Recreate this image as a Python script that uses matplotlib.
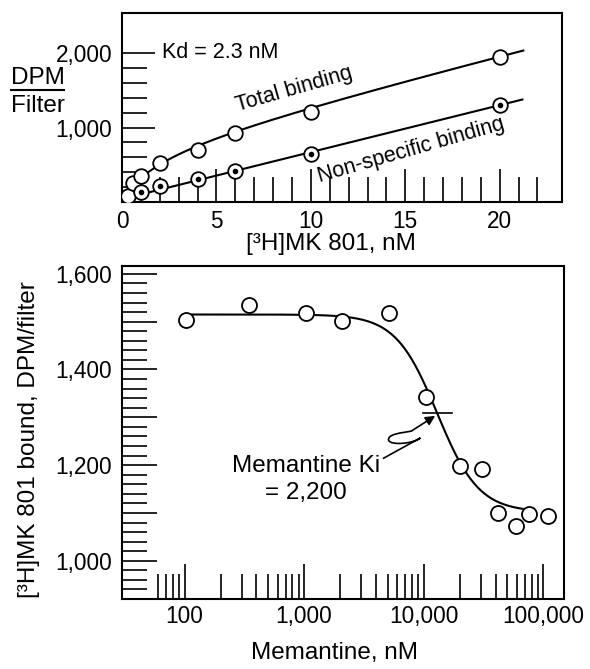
import numpy as np
import matplotlib
matplotlib.use("Agg")
import matplotlib.pyplot as plt
import matplotlib.ticker as mticker
import matplotlib.transforms as mtransforms
from matplotlib.path import Path
from matplotlib.patches import PathPatch

plt.rcParams["font.family"] = ["Liberation Sans", "DejaVu Sans"]

# ── Top panel: saturation binding of [3H]MK 801 ──────────────────────────────
total_conc = [0.3, 0.6, 1, 2, 4, 6, 10, 20]
total_dpm = [75, 250, 345, 530, 700, 920, 1210, 1950]
ns_conc = [1, 2, 4, 6, 10, 20]
ns_dpm = [140, 220, 305, 420, 645, 1300]

# fitted curve parameters (Kd from the figure)
kd = 2.3
bmax = 725
ns_intercept = 40
ns_slope = 63

# ── Bottom panel: memantine displacement ─────────────────────────────────────
mem_conc = [103, 348, 1047, 2094, 5180, 10470, 20050, 31100, 42200, 59800, 76900, 110000]
mem_dpm = [1504, 1535, 1519, 1502, 1519, 1343, 1198, 1192, 1099, 1073, 1097, 1094]

fit_top = 1515
fit_bottom = 1102
fit_ic50 = 13000
fit_hill = 2.5

FS_TICK = 16.3
FS_LABEL = 17.5
FS_NOTE = 15.5


def comma_fmt(v, pos):
    return f"{v:,.0f}"


fig = plt.figure(figsize=(5.9, 6.69), dpi=100)

# ── Top axes ──────────────────────────────────────────────────────────────────
ax1 = fig.add_axes([0.2068, 0.698, 0.7458, 0.2826])

xs = np.linspace(0.5, 21.2, 200)
ns_line = ns_intercept + ns_slope * xs
ax1.plot(xs, ns_line, color="black", lw=1.5, zorder=2)
xt = np.linspace(1.0, 21.25, 200)
tot_line = bmax * xt / (kd + xt) + ns_intercept + ns_slope * xt
ax1.plot(xt, tot_line, color="black", lw=1.5, zorder=2)

ax1.plot(total_conc, total_dpm, "o", ms=10.5, mfc="white", mec="black", mew=1.3, zorder=3)
ax1.plot(ns_conc, ns_dpm, "o", ms=10.5, mfc="white", mec="black", mew=1.3, zorder=3)
ax1.plot(ns_conc, ns_dpm, "o", ms=3, mfc="black", mec="black", zorder=4)

ax1.set_xlim(0, 23.3)
ax1.set_ylim(0, 2537)
ax1.xaxis.set_major_locator(mticker.FixedLocator([0, 5, 10, 15, 20]))
ax1.xaxis.set_minor_locator(mticker.FixedLocator(list(range(1, 23))))
ax1.yaxis.set_major_locator(mticker.FixedLocator([1000, 2000]))
ax1.yaxis.set_minor_locator(mticker.FixedLocator([200, 400, 600, 800, 1200, 1400, 1600, 1800]))
ax1.yaxis.set_major_formatter(mticker.FuncFormatter(comma_fmt))
ax1.tick_params(which="both", direction="in", width=1.2, labelsize=FS_TICK)
ax1.tick_params(which="major", length=24)
ax1.tick_params(which="minor", length=18)
ax1.tick_params(axis="x", pad=6)
ax1.tick_params(axis="y", pad=7)
for sp in ax1.spines.values():
    sp.set_linewidth(1.5)

ax1.set_xlabel("[³H]MK 801, nM", fontsize=FS_LABEL)
ax1.xaxis.set_label_coords(0.475, -0.165)

# DPM / Filter fraction label
ax1.text(-0.192, 0.656, "DPM", transform=ax1.transAxes, fontsize=FS_LABEL,
         ha="center", va="center")
ax1.plot([-0.252, -0.132], [0.593, 0.593], color="black", lw=1.5,
         transform=ax1.transAxes, clip_on=False)
ax1.text(-0.192, 0.508, "Filter", transform=ax1.transAxes, fontsize=FS_LABEL,
         ha="center", va="center")

ax1.text(2.1, 2013, "Kd = 2.3 nM", fontsize=FS_NOTE, ha="left", va="center")
ax1.text(9.1, 1510, "Total binding", fontsize=FS_NOTE, rotation=16,
         rotation_mode="anchor", ha="center", va="center")
ax1.text(15.3, 700, "Non-specific binding", fontsize=FS_NOTE, rotation=16,
         rotation_mode="anchor", ha="center", va="center")

# ── Bottom axes ───────────────────────────────────────────────────────────────
ax2 = fig.add_axes([0.2068, 0.1046, 0.7492, 0.4982])
ax2.set_xscale("log")

xc = np.logspace(2, np.log10(67600), 300)
yc = fit_bottom + (fit_top - fit_bottom) / (1 + (xc / fit_ic50) ** fit_hill)
ax2.plot(xc, yc, color="black", lw=1.5, zorder=2)
ax2.plot(mem_conc, mem_dpm, "o", ms=10.8, mfc="white", mec="black", mew=1.3, zorder=3)

# Ki marker
ki_y = (fit_top + fit_bottom) / 2
ax2.plot([9930, 17300], [ki_y, ki_y], color="black", lw=1.2, zorder=2)

ax2.set_xlim(30, 149600)
ax2.set_ylim(920, 1617)
ax2.xaxis.set_major_locator(mticker.FixedLocator([100, 1000, 10000, 100000]))
minor_x = [60, 70, 80, 90] + [m * d for d in (100, 1000, 10000) for m in range(2, 10)]
ax2.xaxis.set_minor_locator(mticker.FixedLocator(minor_x))
ax2.xaxis.set_major_formatter(mticker.FuncFormatter(comma_fmt))
ax2.xaxis.set_minor_formatter(mticker.NullFormatter())
ax2.yaxis.set_major_locator(mticker.FixedLocator(list(range(1000, 1601, 100))))
ax2.yaxis.set_minor_locator(mticker.FixedLocator(
    [v for v in range(940, 1601, 20) if v % 100 != 0]))
ax2.yaxis.set_major_formatter(mticker.FuncFormatter(
    lambda v, p: f"{v:,.0f}" if v % 200 == 0 else ""))
ax2.tick_params(which="both", direction="in", width=1.2, labelsize=FS_TICK)
ax2.tick_params(which="major", length=25)
ax2.tick_params(which="minor", length=18)
ax2.tick_params(axis="x", pad=4)
ax2.tick_params(axis="y", pad=7)
for sp in ax2.spines.values():
    sp.set_linewidth(1.5)

ax2.set_xlabel("Memantine, nM", fontsize=FS_LABEL)
ax2.xaxis.set_label_coords(0.48, -0.128)
ax2.set_ylabel("[³H]MK 801 bound, DPM/filter", fontsize=FS_LABEL)
ax2.yaxis.set_label_coords(-0.186, 0.477)

# annotation text
ax2.text(1030, 1170, "Memantine Ki\n= 2,200", fontsize=FS_LABEL, ha="center",
         va="center", multialignment="center", linespacing=1.25)

# squiggly arrow (offsets in pixels from the arrow tip)
tip = (12500, 1303)
px = mtransforms.Affine2D().scale(1 / fig.dpi) + fig.dpi_scale_trans + \
    mtransforms.ScaledTranslation(tip[0], tip[1], ax2.transData)
verts = [(-52.3, -42.7), (-14.7, -22.0),
         (-20.7, -27.5), (-44.0, -30.0), (-46.5, -24.5),
         (-48.3, -18.3), (-34.0, -17.0), (-24.0, -15.3)]
codes = [Path.MOVETO, Path.LINETO,
         Path.CURVE4, Path.CURVE4, Path.CURVE4,
         Path.CURVE4, Path.CURVE4, Path.CURVE4]
ax2.add_patch(PathPatch(Path(verts, codes), transform=px, fill=False,
                        lw=1.2, color="black", clip_on=False))
ax2.annotate("", xy=tip, xytext=(-24.0, -15.3), textcoords="offset pixels",
             arrowprops=dict(arrowstyle="-|>", lw=1.2, color="black",
                             shrinkA=0, shrinkB=0, mutation_scale=14))

fig.savefig("out.png", dpi=100)
